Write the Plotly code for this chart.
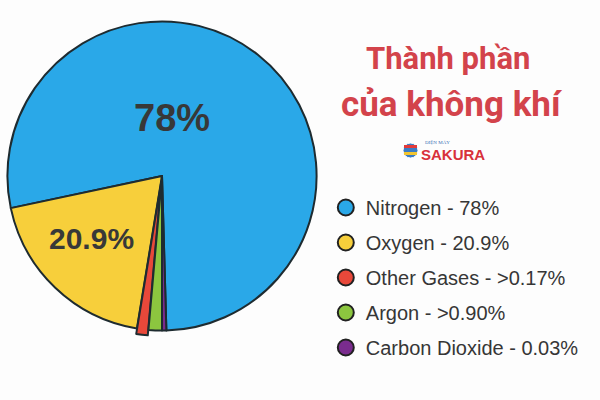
import plotly.graph_objects as go

# ---- data ----
gases = ["Nitrogen", "Oxygen", "Other Gases", "Argon", "Carbon Dioxide"]
legend_values = ["78%", "20.9%", ">0.17%", ">0.90%", "0.03%"]
# slice sizes as drawn in the picture (small slices are exaggerated there)
slice_sizes = [78.0, 19.1, 1.2, 1.4, 0.45]
slice_labels = ["78%", "20.9%"]
slice_pull = [0, 0, 0.035, 0, 0]
colors = ["#2AA8E8", "#F7CF3B", "#E8483A", "#8CC63F", "#7A2C8E"]
title_lines = ["Thành phần", "của không khí"]

W, H = 600, 400


def px(x):
    return x / W


def py(y):
    return 1 - y / H


fig = go.Figure()

fig.add_trace(go.Pie(
    labels=gases,
    values=slice_sizes,
    textinfo="none",
    sort=False,
    direction="counterclockwise",
    rotation=258,
    pull=slice_pull,
    marker=dict(colors=colors, line=dict(color="#1E2B30", width=2)),
    domain=dict(x=[0.0, 0.54], y=[0.16, 0.96]),
    showlegend=False,
    hoverinfo="label+percent",
))

# legend entries with circular markers
for g, v, c in zip(gases, legend_values, colors):
    fig.add_trace(go.Scatter(
        x=[None], y=[None], mode="markers",
        name=f"{g} - {v}",
        legendgroup=g,
        marker=dict(symbol="circle", size=20, color=c,
                    line=dict(color="#222222", width=2)),
    ))

label_font = "Liberation Sans, Arial, sans-serif"
annotations = [
    # slice labels
    dict(text=f"<b>{slice_labels[0]}</b>", x=px(172), y=py(118),
         font=dict(family=label_font, size=38, color="#383838")),
    dict(text=f"<b>{slice_labels[1]}</b>", x=px(91), y=py(238),
         font=dict(family=label_font, size=30, color="#383838")),
    # title
    dict(text=f"<b>{title_lines[0]}</b>", x=px(448), y=py(58),
         font=dict(family="Roboto, sans-serif", size=31, color="#D3434B")),
    dict(text=f"<b>{title_lines[1]}</b>", x=px(452), y=py(104),
         font=dict(family="Roboto, sans-serif", size=35, color="#D3434B")),
    # logo text
    dict(text="<b>SAKURA</b>", x=px(419), y=py(154), xanchor="left",
         font=dict(family=label_font, size=15, color="#D8313B")),
    dict(text="ĐIỆN MÁY", x=px(423), y=py(142), xanchor="left",
         font=dict(family="Liberation Serif, serif", size=5, color="#3A6FB5")),
]
for a in annotations:
    a.update(xref="paper", yref="paper", showarrow=False, yanchor="middle")
    a.setdefault("xanchor", "center")

fig.update_layout(
    width=W, height=H,
    margin=dict(l=0, r=0, t=0, b=0),
    paper_bgcolor="#FDFDFD",
    plot_bgcolor="rgba(0,0,0,0)",
    xaxis=dict(visible=False),
    yaxis=dict(visible=False),
    legend=dict(
        x=0.543, y=0.53, xanchor="left", yanchor="top",
        font=dict(family=label_font, size=20, color="#363636"),
        bgcolor="rgba(0,0,0,0)",
        tracegroupgap=6,
        itemclick=False,
    ),
    annotations=annotations,
    shapes=[
        dict(type="circle", xref="paper", yref="paper",
             x0=px(403), x1=px(418), y0=py(158), y1=py(143),
             fillcolor="#3A7CC4", line=dict(color="#FFFFFF", width=1)),
        dict(type="rect", xref="paper", yref="paper",
             x0=px(404), x1=px(417), y0=py(148), y1=py(145),
             fillcolor="#E23A3A", line=dict(width=0)),
        dict(type="rect", xref="paper", yref="paper",
             x0=px(404), x1=px(417), y0=py(155), y1=py(152),
             fillcolor="#F2C530", line=dict(width=0)),
    ],
)

fig.write_html("out.html", config={"displayModeBar": False},
               post_script="document.body.style.margin='0';")
